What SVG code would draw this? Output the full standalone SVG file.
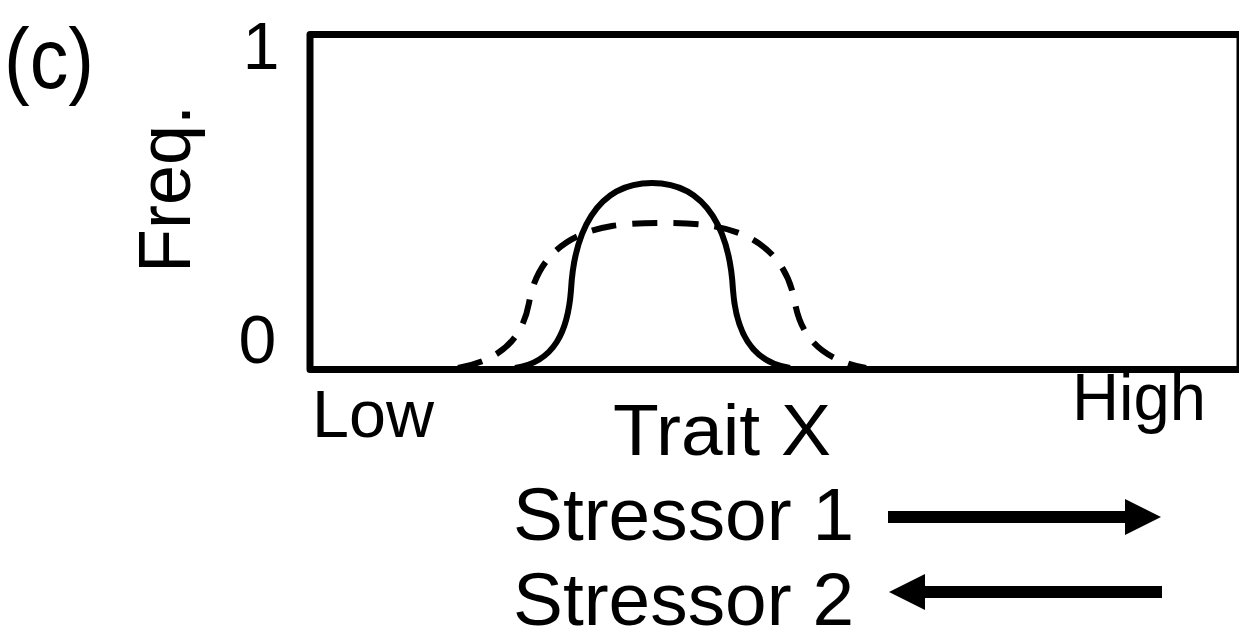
<svg xmlns="http://www.w3.org/2000/svg" width="1239" height="642" viewBox="0 0 1239 642">
<style>
.t{font-family:"Liberation Sans",Arial,sans-serif;fill:#000}
.curve{fill:none;stroke:#000;stroke-width:6}
</style>
<defs>
<marker id="ah" viewBox="0 0 36 36" refX="0" refY="18" markerWidth="36" markerHeight="36" markerUnits="userSpaceOnUse" orient="auto">
<path d="M0,0 L36,18 L0,36 z" fill="#000"/>
</marker>
</defs>
<rect width="1239" height="642" fill="#fff"/>
<g id="panel-label"><text class="t" x="4" y="88" font-size="86" textLength="90" lengthAdjust="spacingAndGlyphs">(c)</text></g>
<g id="plot-frame"><rect x="310" y="34.5" width="930" height="335" fill="none" stroke="#000" stroke-width="7" stroke-linejoin="round"/></g>
<g id="y-axis-labels">
<text class="t" x="261" y="69" font-size="66" text-anchor="middle">1</text>
<text class="t" x="257.5" y="363" font-size="68" text-anchor="middle">0</text>
<text class="t" transform="translate(190,273) rotate(-90)" font-size="74" textLength="168" lengthAdjust="spacingAndGlyphs">Freq.</text>
</g>
<g id="curves">
<path class="curve" d="M515,368 C555,362 568,330 571,290 C574,235 595,183 652,183 C709,183 730,235 733,290 C736,330 750,362 790,368"/>
<path class="curve" stroke-dasharray="25 16" d="M458,368 C500,360 522,340 529,303 C536,262 562,234 612,226 C635,222 689,222 712,226 C762,234 788,262 795,303 C802,340 824,360 866,368"/>
</g>
<g id="x-axis-labels">
<text class="t" x="312" y="437" font-size="67" textLength="122" lengthAdjust="spacingAndGlyphs">Low</text>
<text class="t" x="1072" y="420" font-size="66" textLength="134" lengthAdjust="spacingAndGlyphs">High</text>
<text class="t" x="613" y="455" font-size="73" textLength="218" lengthAdjust="spacingAndGlyphs">Trait X</text>
</g>
<g id="stressor-1"><text class="t" x="513" y="540" font-size="74" textLength="341" lengthAdjust="spacingAndGlyphs">Stressor 1</text></g>
<g id="stressor-2"><text class="t" x="513" y="625" font-size="74" textLength="341" lengthAdjust="spacingAndGlyphs">Stressor 2</text></g>
<g id="connectors" stroke="#000" stroke-width="12" fill="none">
<line x1="888" y1="517" x2="1125" y2="517" marker-end="url(#ah)"/>
<line x1="1162" y1="592" x2="925" y2="592" marker-end="url(#ah)"/>
</g>
</svg>
